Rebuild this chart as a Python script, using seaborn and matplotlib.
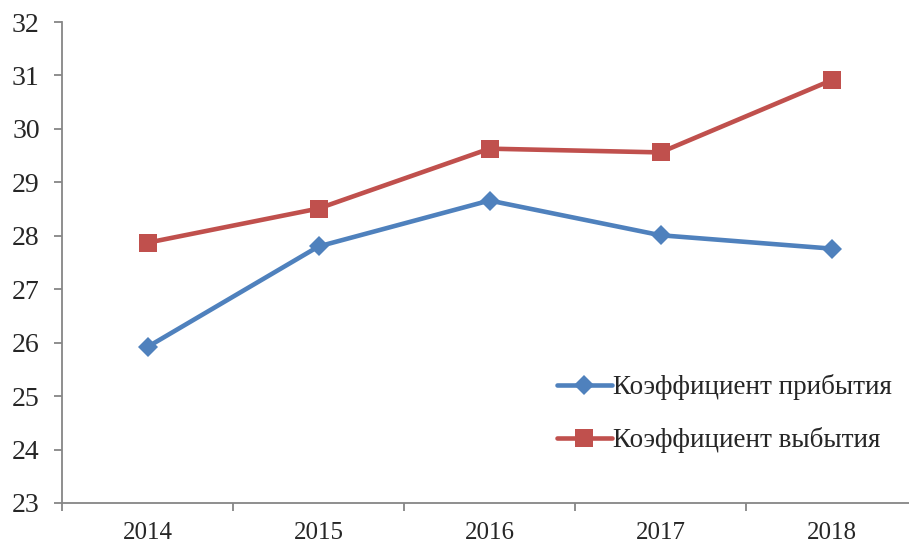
import pandas as pd
import matplotlib
matplotlib.use("Agg")
import matplotlib.pyplot as plt
import seaborn as sns
from matplotlib.ticker import FixedLocator, NullFormatter

years = ["2014", "2015", "2016", "2017", "2018"]
arrival = [25.92, 27.80, 28.66, 28.01, 27.76]
departure = [27.87, 28.51, 29.63, 29.56, 30.91]
series_names = ["Коэффициент прибытия", "Коэффициент выбытия"]

df = pd.DataFrame({
    "year": years * 2,
    "value": arrival + departure,
    "series": [series_names[0]] * len(years) + [series_names[1]] * len(years),
})

sns.set_style("white")
plt.rcParams["font.family"] = ["Liberation Serif", "DejaVu Serif"]

fig = plt.figure(figsize=(9.09, 5.46), dpi=100)
ax = fig.add_axes([62 / 909, 1 - 503 / 546, 855 / 909, 481 / 546])

palette = {series_names[0]: "#4F81BD", series_names[1]: "#C0504D"}
markers = {series_names[0]: "D", series_names[1]: "s"}
sizes = {series_names[0]: 10, series_names[1]: 13}

for name in series_names:
    sub = df[df["series"] == name]
    sns.lineplot(data=sub, x="year", y="value", ax=ax, color=palette[name],
                 marker=markers[name], markersize=sizes[name], linewidth=3.3,
                 markeredgewidth=0, label=name, sort=False)

ax.set_xlim(-0.5, 4.5)
ax.set_ylim(23, 32)
ax.set_yticks(range(23, 33))
ax.set_xlabel("")
ax.set_ylabel("")

for side in ["top", "right"]:
    ax.spines[side].set_visible(False)
for side in ["left", "bottom"]:
    ax.spines[side].set_color("#868686")
    ax.spines[side].set_linewidth(1.3)

ax.tick_params(axis="y", direction="out", length=6, width=1.3, color="#868686",
               labelsize=20, pad=10, left=True)
ax.tick_params(axis="x", which="major", length=0, labelsize=18, pad=14)
ax.xaxis.set_minor_locator(FixedLocator([-0.5, 0.5, 1.5, 2.5, 3.5, 4.5]))
ax.xaxis.set_minor_formatter(NullFormatter())
ax.tick_params(axis="x", which="minor", direction="out", length=6, width=1.3,
               color="#868686", bottom=True)

leg = ax.legend(loc="upper left", bbox_to_anchor=(533 / 909, 1 - 350 / 546),
                bbox_transform=fig.transFigure, frameon=False, fontsize=19.5,
                handlelength=2.0, handletextpad=0.05, labelspacing=1.0)

fig.savefig("out.png", dpi=100)
